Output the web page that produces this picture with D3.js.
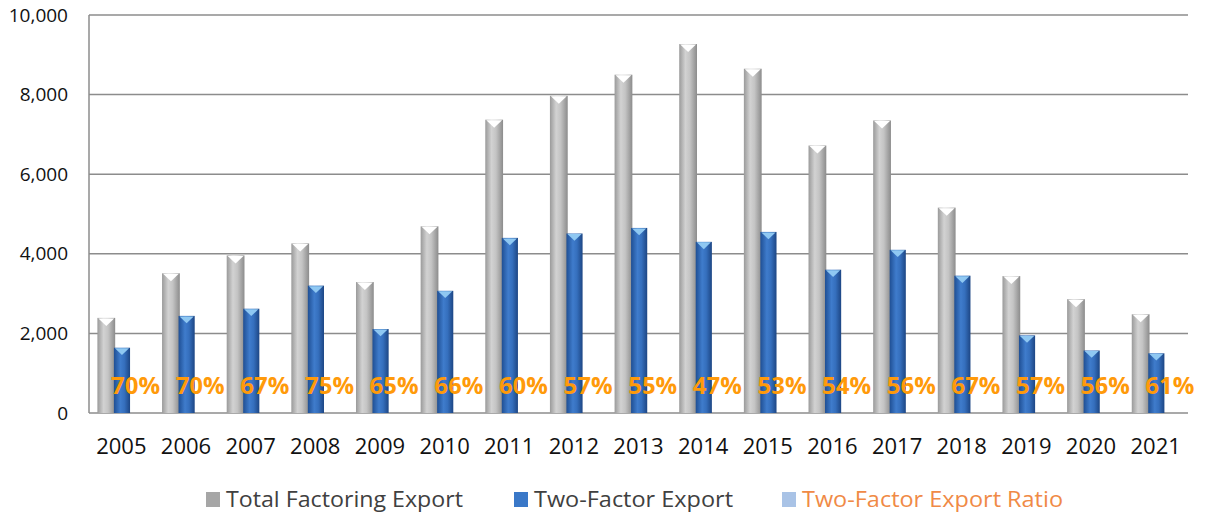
<!DOCTYPE html>
<html>
<head>
<meta charset="utf-8">
<script src="https://cdn.jsdelivr.net/npm/d3@7"></script>
<style>
  body { margin: 0; background: #fff; }
  text { font-family: "Open Sans", "Liberation Sans", sans-serif; }
</style>
</head>
<body>
<svg width="1205" height="515"></svg>
<script>
const years = ['2005','2006','2007','2008','2009','2010','2011','2012','2013','2014','2015','2016','2017','2018','2019','2020','2021'];
const totalExport = [2390, 3510, 3960, 4260, 3290, 4690, 7370, 7970, 8500, 9270, 8650, 6720, 7350, 5160, 3440, 2860, 2480];
const twoFactorExport = [1640, 2440, 2620, 3200, 2110, 3070, 4400, 4510, 4650, 4300, 4550, 3600, 4100, 3450, 1950, 1570, 1500];
const ratioLabels = ['70%','70%','67%','75%','65%','66%','60%','57%','55%','47%','53%','54%','56%','67%','57%','56%','61%'];
const yTicks = [0, 2000, 4000, 6000, 8000, 10000];
const legendItems = ['Total Factoring Export', 'Two-Factor Export', 'Two-Factor Export Ratio'];

const svg = d3.select('svg');
const margin = {top: 15, left: 89, right: 17, bottom: 102};
const WIDTH = +svg.attr('width'), HEIGHT = +svg.attr('height');
const width = WIDTH - margin.left - margin.right;
const height = HEIGHT - margin.top - margin.bottom;

const x = d3.scaleBand().domain(years).range([0, width]);
const y = d3.scaleLinear().domain([0, 10000]).range([height, 0]);
const bw = x.bandwidth();

// gradients for the 3D-ish cylinders
const defs = svg.append('defs');
let grad = (id, stops) => {
    const g = defs.append('linearGradient').attr('id', id)
        .attr('x1', '0%').attr('x2', '100%').attr('y1', '0%').attr('y2', '0%');
    stops.forEach(s => g.append('stop').attr('offset', s[0]).attr('stop-color', s[1]));
};
grad('grayGrad', [['0%', '#9a9a9a'], ['35%', '#d2d2d2'], ['60%', '#c4c4c4'], ['100%', '#8c8c8c']]);
grad('blueGrad', [['0%', '#1f4f94'], ['40%', '#3f7ccc'], ['65%', '#356fbd'], ['100%', '#1d4684']]);

const g = svg.append('g').attr('transform', `translate(${margin.left},${margin.top})`);

// grid
g.selectAll('.grid').data(yTicks).enter().append('line')
    .attr('x1', 0).attr('x2', width)
    .attr('y1', d => y(d)).attr('y2', d => y(d))
    .attr('stroke', '#8c8c8c').attr('stroke-width', 1.5);
g.append('line').attr('x1', 0).attr('x2', 0).attr('y1', 0).attr('y2', height)
    .attr('stroke', '#8c8c8c').attr('stroke-width', 1.5);

// y axis labels
g.selectAll('.ylab').data(yTicks).enter().append('text')
    .attr('x', -21).attr('y', d => y(d)).attr('dy', '0.35em')
    .attr('text-anchor', 'end').attr('font-size', 19).attr('fill', '#111')
    .text(d => d3.format(',')(d));

// x labels
g.selectAll('.xlab').data(years).enter().append('text')
    .attr('x', d => x(d) + bw / 2).attr('y', height + 41)
    .attr('text-anchor', 'middle').attr('font-size', 22).attr('fill', '#111')
    .text(d => d);

const grayX = bw * 0.13, grayW = bw * 0.275;
const blueX = bw * 0.385, blueW = bw * 0.25;

let drawBars = (cls, values, off, w, fill, capFill) => {
    const bars = g.selectAll('.' + cls).data(values).enter().append('g').attr('class', cls);
    bars.append('rect')
        .attr('x', (d, i) => x(years[i]) + off)
        .attr('y', d => y(d))
        .attr('width', w)
        .attr('height', d => height - y(d))
        .attr('fill', fill);
    bars.append('path')
        .attr('d', (d, i) => {
            const x0 = x(years[i]) + off, y0 = y(d);
            return `M${x0 + 1},${y0 + 0.5}L${x0 + w - 1},${y0 + 0.5}L${x0 + w / 2},${y0 + w * 0.45}Z`;
        })
        .attr('fill', capFill);
};
drawBars('gray', totalExport, grayX, grayW, 'url(#grayGrad)', '#ffffff');
drawBars('blue', twoFactorExport, blueX, blueW, 'url(#blueGrad)', '#8fc8f2');

// ratio labels
g.selectAll('.ratio').data(ratioLabels).enter().append('text')
    .attr('x', (d, i) => x(years[i]) + bw * 0.72)
    .attr('y', height - 19)
    .attr('text-anchor', 'middle').attr('font-size', 24).attr('font-weight', 'bold')
    .attr('fill', '#ff9a0a')
    .text(d => d);

// legend
const legendPos = [206, 514, 782];
const legendLen = [237, 199, 261];
const legendColors = ['#a6a6a6', '#3a78c8', '#a9c3e6'];
const legendText = ['#404040', '#404040', '#f08a46'];
const lg = svg.append('g');
legendItems.forEach((name, i) => {
    lg.append('rect').attr('x', legendPos[i]).attr('y', 492).attr('width', 14).attr('height', 15)
        .attr('fill', legendColors[i]);
    lg.append('text').attr('x', legendPos[i] + 20).attr('y', 507)
        .attr('font-size', 21).attr('fill', legendText[i])
        .attr('textLength', legendLen[i]).attr('lengthAdjust', 'spacingAndGlyphs')
        .text(name);
});
</script>
</body>
</html>
